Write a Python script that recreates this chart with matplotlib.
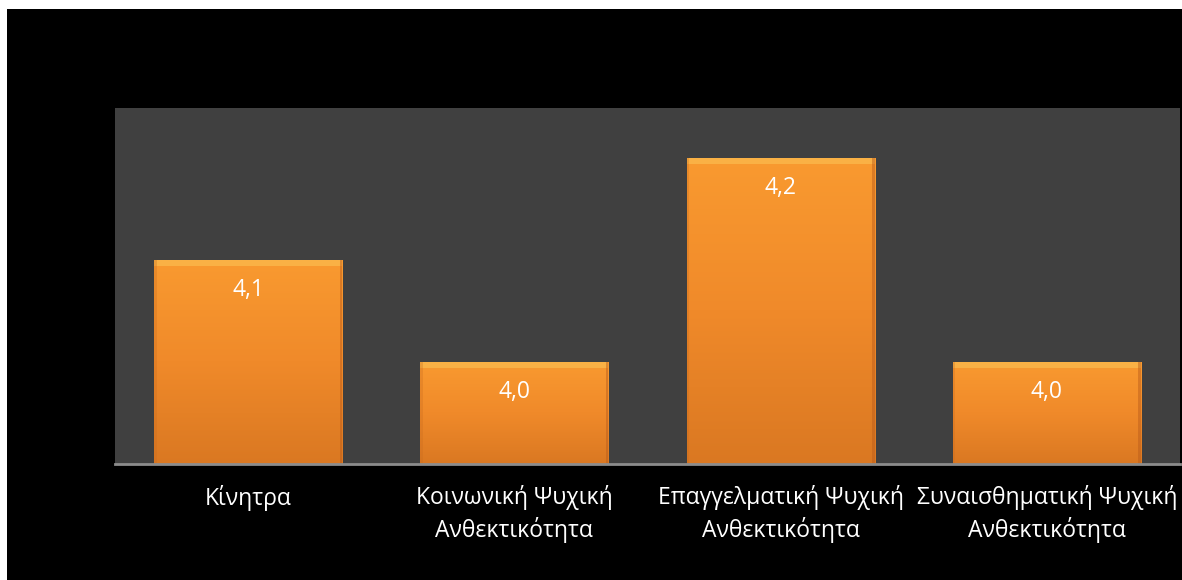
import matplotlib.pyplot as plt
import matplotlib.patches as mpatches
from matplotlib.colors import LinearSegmentedColormap
import numpy as np

categories = ['Κίνητρα', 'Κοινωνική Ψυχική\nΑνθεκτικότητα',
              'Επαγγελματική Ψυχική\nΑνθεκτικότητα', 'Συναισθηματική Ψυχική\nΑνθεκτικότητα']
values = [4.1, 4.0, 4.2, 4.0]
value_labels = ['4,1', '4,0', '4,2', '4,0']

W, H = 1182, 580
fig = plt.figure(figsize=(W / 100, H / 100), dpi=100)
fig.patch.set_facecolor('white')
fig.patches.append(mpatches.Rectangle((7 / W, 0), 1, (H - 9) / H, transform=fig.transFigure,
                                      facecolor='black', edgecolor='none', zorder=-5))

ax = fig.add_axes([115 / W, (H - 464) / H, 1065 / W, (464 - 108) / H])
ax.set_facecolor('#404040')

x = np.arange(len(values))
bars = ax.bar(x, values, width=0.707, bottom=0, color='#F39130', edgecolor='none', zorder=2)

# vertical gradient inside each bar
grad = np.linspace(0, 1, 256).reshape(-1, 1)
cmap = LinearSegmentedColormap.from_list('o', ['#DA7822', '#F08A2A', '#F99A30'])
for b in bars:
    x0, w, h = b.get_x(), b.get_width(), b.get_height()
    im = ax.imshow(grad, extent=[x0, x0 + w, 3.9, h], origin='lower', cmap=cmap,
                   aspect='auto', zorder=3)
    im.set_clip_path(b)
    # bevel highlight at the top and darker sides
    ax.add_patch(mpatches.Rectangle((x0, h - 0.006), w, 0.006, facecolor='#FCC254',
                                    edgecolor='none', alpha=0.6, zorder=4))
    ax.add_patch(mpatches.Rectangle((x0 + w - 0.01, 3.9), 0.01, h - 3.9, facecolor='#B85A1A',
                                    edgecolor='none', alpha=0.45, zorder=4))
    ax.add_patch(mpatches.Rectangle((x0, 3.9), 0.01, h - 3.9, facecolor='#C86A1E',
                                    edgecolor='none', alpha=0.3, zorder=4))

ax.set_xlim(-0.5, 3.5)
ax.set_ylim(3.9, 4.249)

for xi, v, lab in zip(x, values, value_labels):
    ax.annotate(lab, (xi, v), xytext=(0, -30), textcoords='offset pixels',
                ha='center', va='center', color='white', fontsize=16.5,
                family='Open Sans', zorder=5)

ax.set_xticks(x)
ax.set_xticklabels(categories, color='white', fontsize=16.5, family='Open Sans', linespacing=1.35)
ax.tick_params(axis='x', length=0, pad=15)
ax.set_yticks([])
for s in ['top', 'right', 'left']:
    ax.spines[s].set_visible(False)
ax.spines['bottom'].set_color('#8C8C8C')
ax.spines['bottom'].set_linewidth(2)
ax.spines['bottom'].set_zorder(6)

fig.savefig('out.png', dpi=100, facecolor=fig.get_facecolor())
